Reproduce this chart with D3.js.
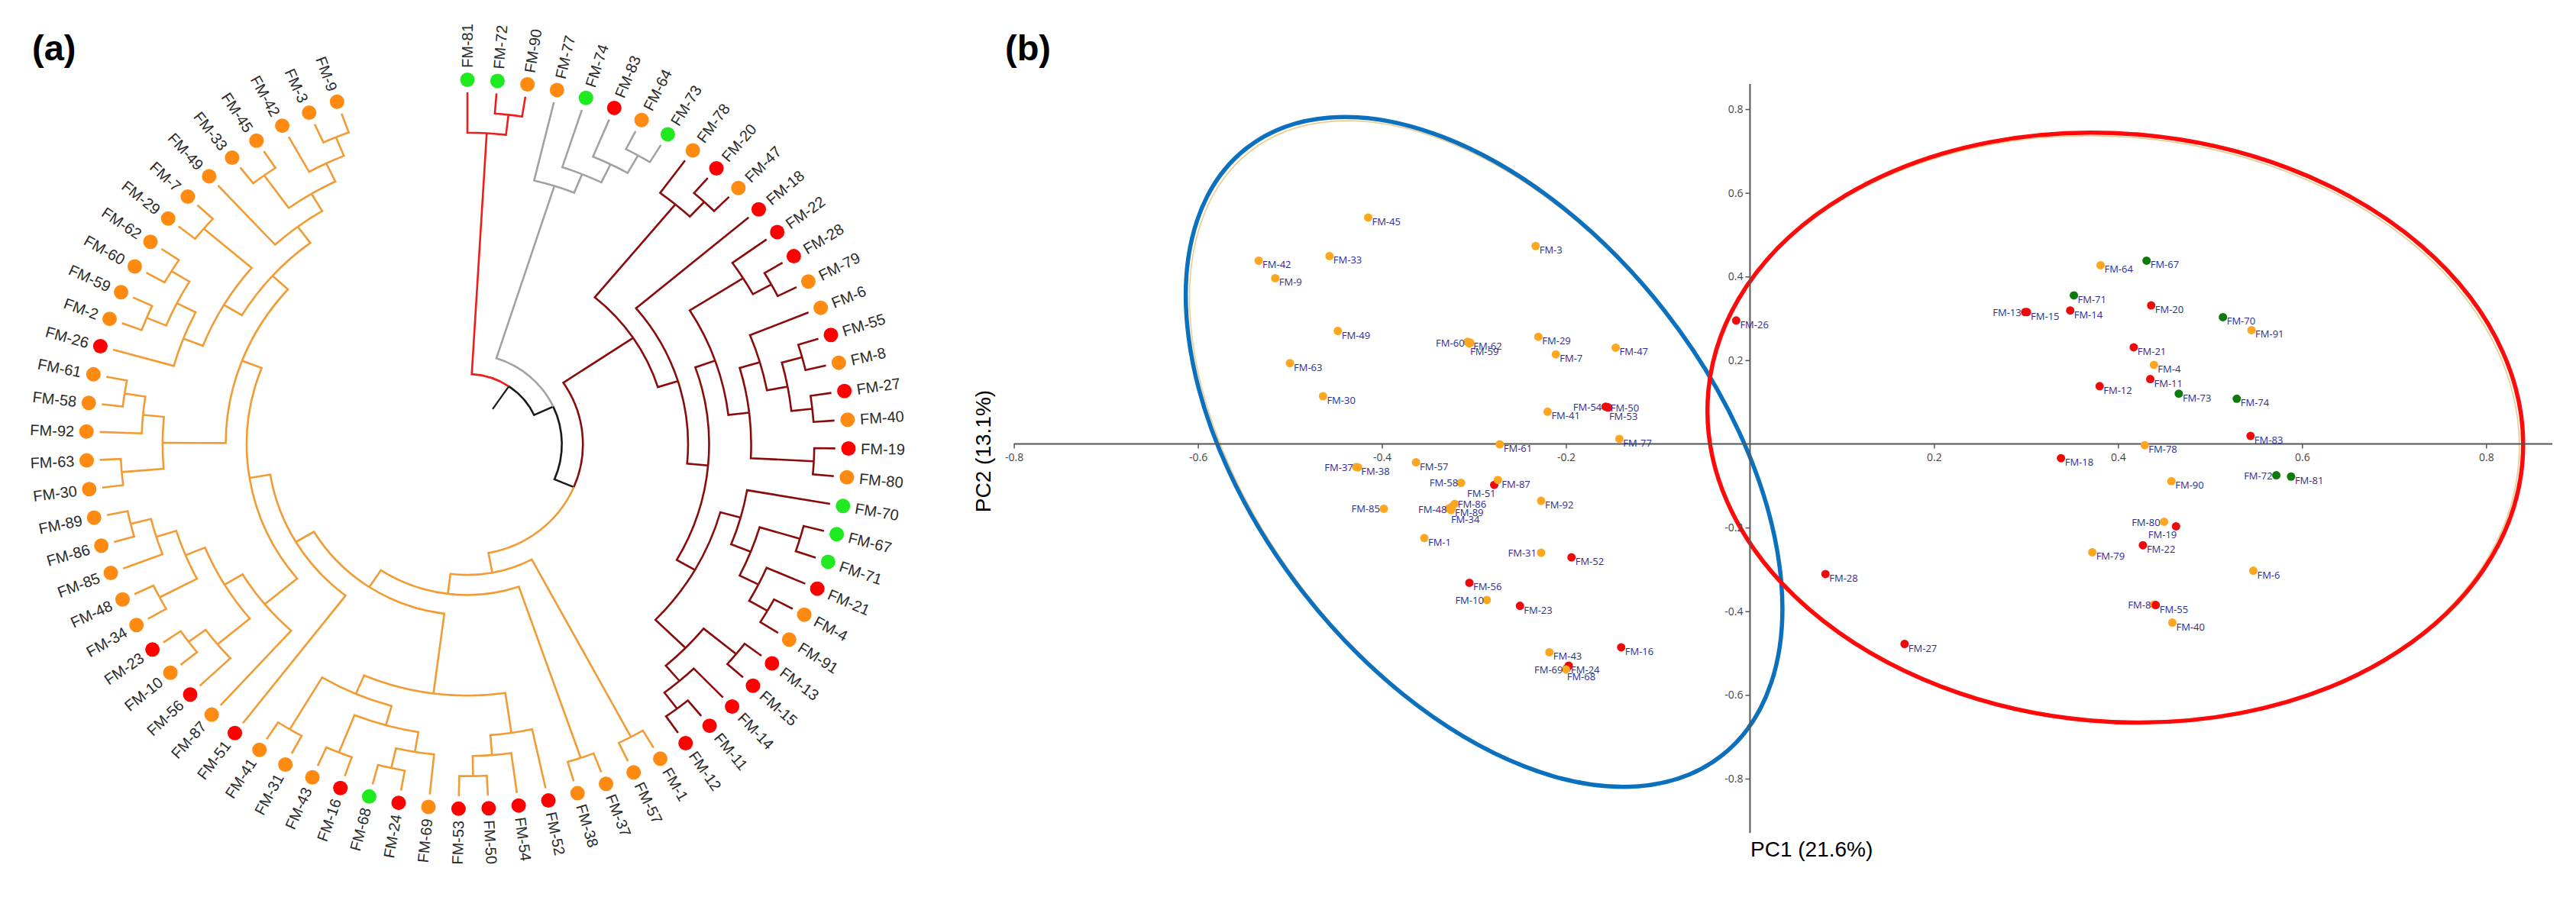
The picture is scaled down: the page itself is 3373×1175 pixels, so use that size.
<!DOCTYPE html>
<html>
<head>
<meta charset="utf-8">
<script src="https://cdn.jsdelivr.net/npm/d3@7"></script>
<style>
  body { margin: 0; background: #fff; }
  svg { display: block; }
</style>
</head>
<body>
<div id="container"></div>
<script>
/* ---------- DATA ---------- */

// (a) cladogram topology, clade by clade (leaf order = clockwise order)
const redClade = ["FM-81", ["FM-72", "FM-90"]];
const grayClade = ["FM-77", ["FM-74", ["FM-83", ["FM-64", "FM-73"]]]];

const drA = ["FM-78", ["FM-20", "FM-47"]];
const drG = ["FM-22", ["FM-28", "FM-79"]];
const drH = [["FM-6", [["FM-55", "FM-8"], ["FM-27", "FM-40"]]], ["FM-19", "FM-80"]];
const drW = ["FM-70", [["FM-67", "FM-71"], ["FM-21", ["FM-4", "FM-91"]]]];
const drK = [["FM-13", "FM-15"], ["FM-14", ["FM-11", "FM-12"]]];
const darkRedClade = [drA, ["FM-18", [[drG, drH], [drW, drK]]]];

const orK = ["FM-52", ["FM-54", ["FM-50", "FM-53"]]];
const orL = [[["FM-69", ["FM-24", "FM-68"]], ["FM-16", "FM-43"]], ["FM-31", "FM-41"]];
const orG = [["FM-56", ["FM-10", "FM-23"]], [["FM-34", "FM-48"], ["FM-85", ["FM-86", "FM-89"]]]];
const orV = [["FM-30", "FM-63"], ["FM-92", ["FM-58", "FM-61"]]];
const orT = [[["FM-26", [["FM-2", "FM-59"], ["FM-60", "FM-62"]]], ["FM-29", "FM-7"]],
             ["FM-49", [["FM-33", "FM-45"], ["FM-42", ["FM-3", "FM-9"]]]]];
const orangeClade = [["FM-1", "FM-57"], [["FM-37", "FM-38"], [[orK, orL], ["FM-51", [["FM-87", orG], [orV, orT]]]]]];

const tree = [redClade, [grayClade, [darkRedClade, orangeClade]]];

// isolate groups (dot colours in both panels), everything else is orange
const redIsolates = ["FM-83", "FM-20", "FM-18", "FM-22", "FM-28", "FM-55", "FM-27", "FM-19", "FM-21",
  "FM-13", "FM-15", "FM-14", "FM-11", "FM-12", "FM-52", "FM-54", "FM-50", "FM-53", "FM-24",
  "FM-16", "FM-51", "FM-56", "FM-23", "FM-26"];
const greenIsolates = ["FM-81", "FM-72", "FM-74", "FM-73", "FM-70", "FM-67", "FM-71", "FM-68"];

// (b) PCA scores
const pcaNames = ["FM-45", "FM-42", "FM-33", "FM-9", "FM-49", "FM-63", "FM-30", "FM-60", "FM-62", "FM-59",
  "FM-3", "FM-29", "FM-7", "FM-47", "FM-41", "FM-54", "FM-50", "FM-53", "FM-77", "FM-26",
  "FM-61", "FM-57", "FM-37", "FM-38", "FM-58", "FM-51", "FM-87", "FM-86", "FM-48", "FM-89",
  "FM-34", "FM-85", "FM-1", "FM-92", "FM-31", "FM-52", "FM-56", "FM-10", "FM-23", "FM-16",
  "FM-43", "FM-68", "FM-24", "FM-69", "FM-28", "FM-27", "FM-64", "FM-67", "FM-71", "FM-13",
  "FM-15", "FM-14", "FM-20", "FM-21", "FM-4", "FM-11", "FM-12", "FM-73", "FM-78", "FM-18",
  "FM-90", "FM-80", "FM-19", "FM-22", "FM-79", "FM-8", "FM-55", "FM-40", "FM-70", "FM-91",
  "FM-74", "FM-83", "FM-72", "FM-81", "FM-6"];
const pc1 = [-0.415, -0.534, -0.457, -0.516, -0.448, -0.500, -0.464, -0.307, -0.304, -0.305,
  -0.233, -0.230, -0.211, -0.146, -0.220, -0.157, -0.155, -0.154, -0.142, -0.015,
  -0.272, -0.363, -0.428, -0.426, -0.314, -0.278, -0.274, -0.321, -0.327, -0.324,
  -0.325, -0.398, -0.354, -0.227, -0.227, -0.194, -0.305, -0.286, -0.250, -0.140,
  -0.218, -0.199, -0.197, -0.200, 0.082, 0.168, 0.381, 0.431, 0.352, 0.299,
  0.301, 0.348, 0.436, 0.417, 0.439, 0.435, 0.380, 0.466, 0.429, 0.338,
  0.458, 0.450, 0.463, 0.427, 0.372, 0.439, 0.441, 0.459, 0.514, 0.545,
  0.529, 0.544, 0.572, 0.588, 0.547];
const pc2 = [0.541, 0.438, 0.449, 0.396, 0.270, 0.193, 0.114, 0.244, 0.242, 0.240,
  0.473, 0.256, 0.214, 0.230, 0.077, 0.089, 0.088, 0.087, 0.012, 0.295,
  -0.001, -0.044, -0.055, -0.056, -0.093, -0.098, -0.086, -0.143, -0.154, -0.150,
  -0.158, -0.155, -0.225, -0.136, -0.260, -0.271, -0.332, -0.373, -0.387, -0.486,
  -0.498, -0.536, -0.530, -0.539, -0.311, -0.478, 0.427, 0.438, 0.355, 0.315,
  0.315, 0.319, 0.331, 0.231, 0.189, 0.155, 0.138, 0.120, -0.003, -0.034,
  -0.089, -0.186, -0.197, -0.242, -0.259, -0.384, -0.385, -0.427, 0.303, 0.272,
  0.108, 0.019, -0.075, -0.078, -0.303];
const axisTicks = [-0.8, -0.6, -0.4, -0.2, 0.2, 0.4, 0.6, 0.8];

/* ---------- LAYOUT / STYLE ---------- */
const width = 3373, height = 1175;
const dendro = { cx: 612, cy: 582, stretch: 1.045, rLeaf: 461, rRoot: 92, rStem: 56, rDot: 477.5, rLabel: 493, span: 340 };
const branchColor = { red: "#ef1c1c", gray: "#a2a2a2", darkred: "#8a0b0b", orange: "#f29b33", none: "#1a1a1a" };
const dotColorA = { red: "#ff0000", green: "#1fea1f", orange: "#fe8a12" };
const dotColorB = { red: "#ee0a0a", green: "#0c7a0c", orange: "#fda620" };

// label placement for crowded PCA points: [dx, dy, anchor]
const pcaLabelPos = {
  "FM-60": [-4, 6, "end"], "FM-62": [4, 9, "start"], "FM-59": [1, 15, "start"],
  "FM-37": [-4, 5, "end"], "FM-38": [4, 10, "start"], "FM-58": [-4, 5, "end"],
  "FM-51": [2, 16, "end"], "FM-86": [4, 5, "start"], "FM-89": [4, 12, "start"],
  "FM-48": [-3, 6, "end"], "FM-34": [0, 17, "start"], "FM-85": [-5, 5, "end"],
  "FM-31": [-6, 5, "end"], "FM-10": [-4, 5, "end"], "FM-54": [-5, 5, "end"],
  "FM-50": [4, 6, "start"], "FM-53": [1, 16, "start"], "FM-69": [-4, 5, "end"],
  "FM-24": [3, 10, "start"], "FM-68": [0, 16, "start"], "FM-13": [-5, 5, "end"],
  "FM-80": [-5, 6, "end"], "FM-19": [1, 16, "end"], "FM-8": [-4, 5, "end"],
  "FM-72": [-5, 5, "end"]
};

const groupOf = name => redIsolates.includes(name) ? "red" : greenIsolates.includes(name) ? "green" : "orange";

const svg = d3.select("#container").append("svg")
  .attr("width", width).attr("height", height)
  .style("background", "#fff");

/* ---------- (a) circular cladogram ---------- */
const cladeOf = new Map([[redClade, "red"], [grayClade, "gray"], [darkRedClade, "darkred"], [orangeClade, "orange"]]);

const root = d3.hierarchy(tree, d => Array.isArray(d) ? d : null);
d3.cluster().separation(() => 1)(root);

const leaves = root.leaves();
const angle = d3.scaleLinear()
  .domain(d3.extent(leaves, d => d.x))
  .range([0, dendro.span]);
const radius = d3.scaleLinear()
  .domain([0, root.height])
  .range([dendro.rLeaf, dendro.rRoot]);

root.each(d => {
  d.a = angle(d.x);
  d.r = radius(d.height);
  d.clade = cladeOf.get(d.data) || (d.parent ? d.parent.clade : null);
});

function polar(r, a) {
  const t = a * Math.PI / 180;
  return [dendro.cx + r * dendro.stretch * Math.sin(t), dendro.cy - r * Math.cos(t)];
}

function linkPath(d) {
  const p = d.parent;
  const [x0, y0] = polar(p.r, p.a);
  const [x1, y1] = polar(p.r, d.a);
  const [x2, y2] = polar(d.r, d.a);
  const sweep = d.a > p.a ? 1 : 0;
  const large = Math.abs(d.a - p.a) > 180 ? 1 : 0;
  return `M${x0},${y0}A${p.r * dendro.stretch},${p.r} 0 ${large} ${sweep} ${x1},${y1}L${x2},${y2}`;
}

const gA = svg.append("g").attr("class", "dendrogram");

gA.selectAll("path.link")
  .data(root.descendants().filter(d => d.parent))
  .join("path")
  .attr("class", "link")
  .attr("d", linkPath)
  .attr("fill", "none")
  .attr("stroke", d => branchColor[d.clade || "none"])
  .attr("stroke-width", 2.6);

// root stem
const [sx0, sy0] = polar(root.r, root.a);
const [sx1, sy1] = polar(dendro.rStem, root.a);
gA.append("line")
  .attr("x1", sx0).attr("y1", sy0).attr("x2", sx1).attr("y2", sy1)
  .attr("stroke", branchColor.none).attr("stroke-width", 2.2);

gA.selectAll("circle.leaf")
  .data(leaves)
  .join("circle")
  .attr("class", "leaf")
  .attr("cx", d => polar(dendro.rDot, d.a)[0])
  .attr("cy", d => polar(dendro.rDot, d.a)[1])
  .attr("r", 9.5)
  .attr("fill", d => dotColorA[groupOf(d.data)]);

gA.selectAll("text.leaf-label")
  .data(leaves)
  .join("text")
  .attr("class", "leaf-label")
  .attr("transform", d => {
    const [x, y] = polar(dendro.rLabel, d.a);
    const rot = d.a < 180 ? d.a - 90 : d.a + 90;
    return `translate(${x},${y}) rotate(${rot})`;
  })
  .attr("text-anchor", d => d.a < 180 ? "start" : "end")
  .attr("dy", "0.36em")
  .style("font-family", "'Liberation Sans', Arial, sans-serif")
  .style("font-size", "20px")
  .style("fill", "#2a2a2a")
  .text(d => d.data);

svg.append("text")
  .attr("x", 42).attr("y", 79)
  .style("font-family", "'Liberation Sans', Arial, sans-serif")
  .style("font-weight", "bold")
  .style("font-size", "47px")
  .text("(a)");

/* ---------- (b) PCA ---------- */
const xPC = d3.scaleLinear().domain([-0.8, 0.8]).range([1327.6, 3255.3]);
const yPC = d3.scaleLinear().domain([-0.8, 0.8]).range([1020, 143]);

const gB = svg.append("g").attr("class", "pca");

// group ellipses (annotation), centre in PC units
const ellipses = [
  { c: [-0.289, -0.019], rx: 505, ry: 300, rot: 52, color: "#0b70be", shadow: [3, 3] },
  { c: [0.397, 0.039], rx: 535, ry: 385, rot: 5, color: "#ff0a0a", shadow: [-3, 2] }
];
ellipses.forEach(e => {
  const cx = xPC(e.c[0]), cy = yPC(e.c[1]);
  gB.append("ellipse")
    .attr("transform", `translate(${cx + e.shadow[0]},${cy + e.shadow[1]}) rotate(${e.rot})`)
    .attr("rx", e.rx - 2).attr("ry", e.ry - 2)
    .attr("fill", "none").attr("stroke", "#eccb8c").attr("stroke-width", 1.6);
  gB.append("ellipse")
    .attr("transform", `translate(${cx},${cy}) rotate(${e.rot})`)
    .attr("rx", e.rx).attr("ry", e.ry)
    .attr("fill", "none").attr("stroke", e.color).attr("stroke-width", 5.5);
});

// axes crossing at the origin
const tickFmt = d => d.toFixed(1);
const xAxisG = gB.append("g")
  .attr("transform", `translate(0,${yPC(0)})`)
  .call(d3.axisBottom(xPC).tickValues(axisTicks).tickFormat(tickFmt).tickSize(6).tickSizeOuter(0).tickPadding(7));
const yAxisG = gB.append("g")
  .attr("transform", `translate(${xPC(0)},0)`)
  .call(d3.axisLeft(yPC).tickValues(axisTicks).tickFormat(tickFmt).tickSize(6).tickSizeOuter(0).tickPadding(3));

[xAxisG, yAxisG].forEach(g => {
  g.select(".domain").remove();
  g.selectAll("line").attr("stroke", "#555").attr("stroke-width", 1.5);
  g.selectAll("text")
    .style("font-family", "'Open Sans', sans-serif")
    .style("font-size", "14px")
    .style("fill", "#444");
});

gB.append("line")
  .attr("x1", xPC(-0.8)).attr("x2", xPC(0.872))
  .attr("y1", yPC(0)).attr("y2", yPC(0))
  .attr("stroke", "#555").attr("stroke-width", 2);
gB.append("line")
  .attr("x1", xPC(0)).attr("x2", xPC(0))
  .attr("y1", yPC(0.86)).attr("y2", yPC(-0.93))
  .attr("stroke", "#555").attr("stroke-width", 2);

const points = pcaNames.map((name, i) => ({ name, x: pc1[i], y: pc2[i], g: groupOf(name) }));

gB.selectAll("circle.pt")
  .data(points)
  .join("circle")
  .attr("class", "pt")
  .attr("cx", d => xPC(d.x))
  .attr("cy", d => yPC(d.y))
  .attr("r", 5.5)
  .attr("fill", d => dotColorB[d.g]);

gB.selectAll("text.pt-label")
  .data(points)
  .join("text")
  .attr("class", "pt-label")
  .attr("x", d => xPC(d.x) + (pcaLabelPos[d.name] || [5, 10])[0])
  .attr("y", d => yPC(d.y) + (pcaLabelPos[d.name] || [5, 10])[1])
  .attr("text-anchor", d => (pcaLabelPos[d.name] || [5, 10, "start"])[2])
  .style("font-family", "'Open Sans', sans-serif")
  .style("font-size", "13px")
  .style("fill", "#2b2b94")
  .text(d => d.name);

// axis titles
svg.append("text")
  .attr("x", 2292).attr("y", 1122)
  .style("font-family", "'Liberation Sans', Arial, sans-serif")
  .style("font-size", "28px")
  .text("PC1 (21.6%)");
svg.append("text")
  .attr("transform", "translate(1297,591) rotate(-90)")
  .attr("text-anchor", "middle")
  .style("font-family", "'Liberation Sans', Arial, sans-serif")
  .style("font-size", "28px")
  .text("PC2 (13.1%)");

svg.append("text")
  .attr("x", 1316).attr("y", 79)
  .style("font-family", "'Liberation Sans', Arial, sans-serif")
  .style("font-weight", "bold")
  .style("font-size", "47px")
  .text("(b)");
</script>
</body>
</html>
